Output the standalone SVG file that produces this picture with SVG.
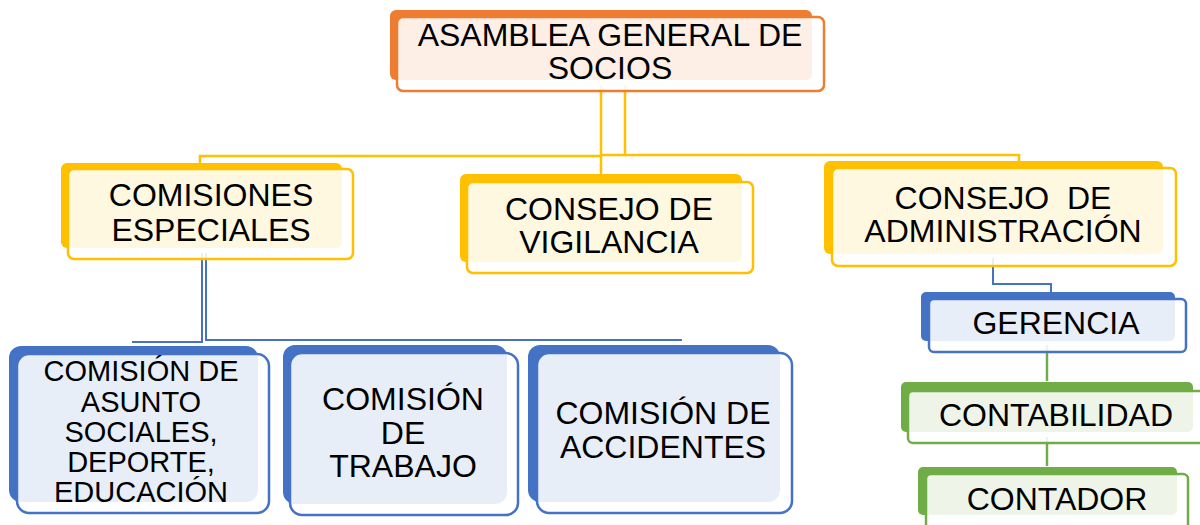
<svg xmlns="http://www.w3.org/2000/svg" width="1200" height="525" viewBox="0 0 1200 525">
<style>
text{font-family:"Liberation Sans",Arial,sans-serif;font-size:32px;fill:#000;text-anchor:middle}
.ov{fill:#fff;fill-opacity:0.88;stroke-width:2.5}
.o .s{fill:#ED7D31}.o .ov{stroke:#ED7D31}
.y .s{fill:#FFC000}.y .ov{stroke:#FFC000}
.b .s{fill:#4472C4}.b .ov{stroke:#4472C4}
.g .s{fill:#70AD47}.g .ov{stroke:#70AD47}
.cy{stroke:#FFC000;stroke-width:2.5;fill:none}
.cb{stroke:#4472C4;stroke-width:2;fill:none}
.cg{stroke:#70AD47;stroke-width:2.5;fill:none}
</style>
<rect width="1200" height="525" fill="#fff"/>
<g id="connectors">
<path class="cy" d="M601,85 V176"/>
<path class="cy" d="M625,85 V155 H601"/>
<path class="cy" d="M200,164 V156 H601"/>
<path class="cy" d="M625,155 H1019 V162"/>
<path class="cb" d="M202,253 V342 H132"/>
<path class="cb" d="M206,253 V340 H682"/>
<path class="cb" d="M993,258 V284 H1051 V292"/>
<path class="cg" d="M1047,345 V381"/>
<path class="cg" d="M1047,437 V466"/>
</g>
<g id="asamblea" class="o">
<rect class="s" x="390" y="10" width="422" height="70" rx="6"/>
<rect class="ov" x="397" y="17" width="427" height="74" rx="6"/>
<text x="610" y="46">ASAMBLEA GENERAL DE</text>
<text x="610" y="79">SOCIOS</text>
</g>
<g id="comisiones-especiales" class="y">
<rect class="s" x="61" y="163" width="281" height="85" rx="6"/>
<rect class="ov" x="68" y="169" width="285" height="90" rx="6"/>
<text x="211" y="206">COMISIONES</text>
<text x="211" y="241">ESPECIALES</text>
</g>
<g id="consejo-vigilancia" class="y">
<rect class="s" x="460" y="174" width="282" height="88" rx="6"/>
<rect class="ov" x="467" y="182" width="286" height="91" rx="6"/>
<text x="609" y="220">CONSEJO DE</text>
<text x="609" y="253">VIGILANCIA</text>
</g>
<g id="consejo-administracion" class="y">
<rect class="s" x="824" y="161" width="339" height="93" rx="6"/>
<rect class="ov" x="832" y="168" width="344" height="98" rx="6"/>
<text x="1003" y="209" style="white-space:pre" xml:space="preserve">CONSEJO  DE</text>
<text x="1003" y="242">ADMINISTRACIÓN</text>
</g>
<g id="gerencia" class="b">
<rect class="s" x="921" y="292" width="254" height="49" rx="5"/>
<rect class="ov" x="929" y="299" width="257" height="53" rx="5"/>
<text x="1056" y="334">GERENCIA</text>
</g>
<g id="contabilidad" class="g">
<rect class="s" x="901" y="382" width="292" height="50" rx="5"/>
<rect class="ov" x="908" y="391" width="296" height="52" rx="5"/>
<text x="1056" y="426">CONTABILIDAD</text>
</g>
<g id="contador" class="g">
<rect class="s" x="918" y="467" width="259" height="48" rx="5"/>
<rect class="ov" x="926" y="474" width="262" height="60" rx="5"/>
<text x="1057" y="510">CONTADOR</text>
</g>
<g id="comision-asuntos" class="b">
<rect class="s" x="9" y="346" width="249" height="156" rx="12"/>
<rect class="ov" x="17" y="354" width="252" height="159" rx="12"/>
<text x="141" y="381" style="font-size:29px">COMISIÓN DE</text>
<text x="141" y="412" style="font-size:29px">ASUNTO</text>
<text x="141" y="442" style="font-size:29px">SOCIALES,</text>
<text x="141" y="472" style="font-size:29px">DEPORTE,</text>
<text x="141" y="502" style="font-size:29px">EDUCACIÓN</text>
</g>
<g id="comision-trabajo" class="b">
<rect class="s" x="283" y="345" width="224" height="159" rx="12"/>
<rect class="ov" x="290" y="353" width="228" height="162" rx="12"/>
<text x="403" y="410">COMISIÓN</text>
<text x="403" y="444">DE</text>
<text x="403" y="477">TRABAJO</text>
</g>
<g id="comision-accidentes" class="b">
<rect class="s" x="528" y="345" width="252" height="157" rx="12"/>
<rect class="ov" x="537" y="353" width="255" height="160" rx="12"/>
<text x="663" y="424">COMISIÓN DE</text>
<text x="663" y="458">ACCIDENTES</text>
</g>
</svg>
